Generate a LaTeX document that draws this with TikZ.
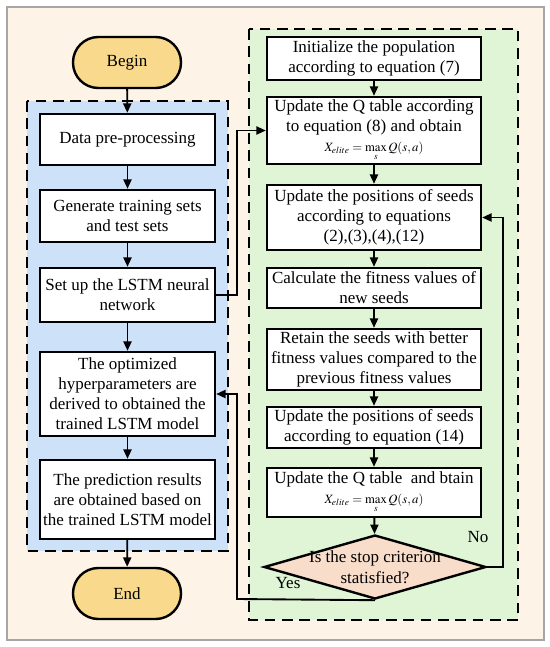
\documentclass[tikz,border=0pt]{standalone}
\usepackage{mathptmx}
\usepackage{fontspec}
\setmainfont{Liberation Serif}
\usetikzlibrary{arrows.meta,shapes.geometric}
\definecolor{bgbeige}{HTML}{FDF3E6}
\definecolor{bgblue}{HTML}{CDE1F8}
\definecolor{bggreen}{HTML}{DFF5D6}
\definecolor{termfill}{HTML}{F9D98B}
\definecolor{diafill}{HTML}{F9DDCB}
\begin{document}
\begin{tikzpicture}[x=0.75pt,y=-0.75pt,
  box/.style={draw=black,line width=1.8pt,fill=white,align=center,inner sep=1pt,
    font=\fontsize{12.75}{15}\selectfont},
  term/.style={draw=black,line width=1.8pt,fill=termfill,rounded corners=19pt,
    minimum width=81pt,minimum height=38.25pt,font=\fontsize{12.75}{15}\selectfont},
  region/.style={draw=black,line width=1.6pt,dash pattern=on 8pt off 5pt},
  arr/.style={-{Triangle[length=7pt,width=6pt]},line width=1.4pt},
  lbl/.style={font=\fontsize{12.75}{15}\selectfont,inner sep=0pt}]
\useasboundingbox (0,0) rectangle (550,647);
\fill[white] (0,0) rectangle (550,647);
\draw[fill=bgbeige,draw=gray!70,line width=0.8pt] (7,7) rectangle (544,640);
\draw[region,fill=bgblue] (27,101) rectangle (228,551);
\draw[region,fill=bggreen] (249,29) rectangle (518,620);

% left column
\node[term] (begin) at (127,62.5) {Begin};
\node[box,minimum width=131.25pt,minimum height=38.25pt] (data) at (127.5,139.5) {Data pre-processing};
\node[box,minimum width=131.25pt,minimum height=39pt] (gen) at (127.5,216) {Generate training sets\\and test sets};
\node[box,minimum width=131.25pt,minimum height=40.5pt] (lstm) at (127.5,295) {Set up the LSTM neural\\network};
\node[box,minimum width=131.25pt,minimum height=63pt] (opt) at (127.5,394) {The optimized\\hyperparameters are\\derived to obtained the\\trained LSTM model};
\node[box,minimum width=131.25pt,minimum height=59.25pt] (pred) at (127.5,499.5) {The prediction results\\are obtained based on\\the trained LSTM model};
\node[term] (end) at (127,593.5) {End};

% right column
\node[box,minimum width=160.5pt,minimum height=32.25pt] (init) at (374,58.5) {Initialize the population\\according to equation (7)};
\node[box,minimum width=160.5pt,minimum height=50.25pt] (q1) at (374,130.5) {Update the Q table according\\to equation (8) and obtain\\[0pt]{\fontsize{9.5}{10}\selectfont $X_{elite}=\max\limits_{s} Q(s,a)$}};
\node[box,minimum width=160.5pt,minimum height=48.75pt] (pos) at (374,217.5) {Update the positions of seeds\\according to equations\\(2),(3),(4),(12)};
\node[box,minimum width=160.5pt,minimum height=30pt] (calc) at (374,288) {Calculate the fitness values of\\new seeds};
\node[box,minimum width=160.5pt,minimum height=45.75pt] (ret) at (374,359.5) {Retain the seeds with better\\fitness values compared to the\\previous fitness values};
\node[box,minimum width=160.5pt,minimum height=30.75pt] (pos14) at (374,427.5) {Update the positions of seeds\\according to equation (14)};
\node[box,minimum width=160.5pt,minimum height=36.75pt] (q2) at (374,492.5) {Update the Q table\ \ and btain\\[0pt]{\fontsize{9.5}{10}\selectfont $X_{elite}=\max\limits_{s} Q(s,a)$}};
\node[diamond,draw=black,line width=1.8pt,fill=diafill,minimum width=166.5pt,minimum height=48pt,inner sep=0pt] (dia) at (375,567) {};
\node[lbl,align=center,font=\fontsize{12.75}{15.5}\selectfont] (diat) at (375,567.5) {Is the stop criterion\\statisfied?};
\node[lbl] (no) at (478,537) {No};
\node[lbl] (yes) at (288,583) {Yes};

\coordinate (c1) at (237,295);
\coordinate (c2) at (237,130.5);
\coordinate (c3) at (503,567);
\coordinate (c4) at (503,217.5);
\coordinate (c5) at (237,599);
\coordinate (c6) at (237,394);

% connectors
\draw[arr] (begin) -- (data);
\draw[arr] (data) -- (gen);
\draw[arr] (gen) -- (lstm);
\draw[arr] (lstm) -- (opt);
\draw[arr] (opt) -- (pred);
\draw[arr] (pred) -- (end);
\draw[arr] (lstm.east) -- (c1) -- (c2) -- (q1.west);
\draw[arr] (init) -- (q1);
\draw[arr] (q1) -- (pos);
\draw[arr] (pos) -- (calc);
\draw[arr] (calc) -- (ret);
\draw[arr] (ret) -- (pos14);
\draw[arr] (pos14) -- (q2);
\draw[arr] (q2) -- (dia);
\draw[arr] (dia.east) -- (c3) -- (c4) -- (pos.east);
\draw[arr] (dia.south) -- (c5) -- (c6) -- (opt.east);
\end{tikzpicture}
\end{document}
